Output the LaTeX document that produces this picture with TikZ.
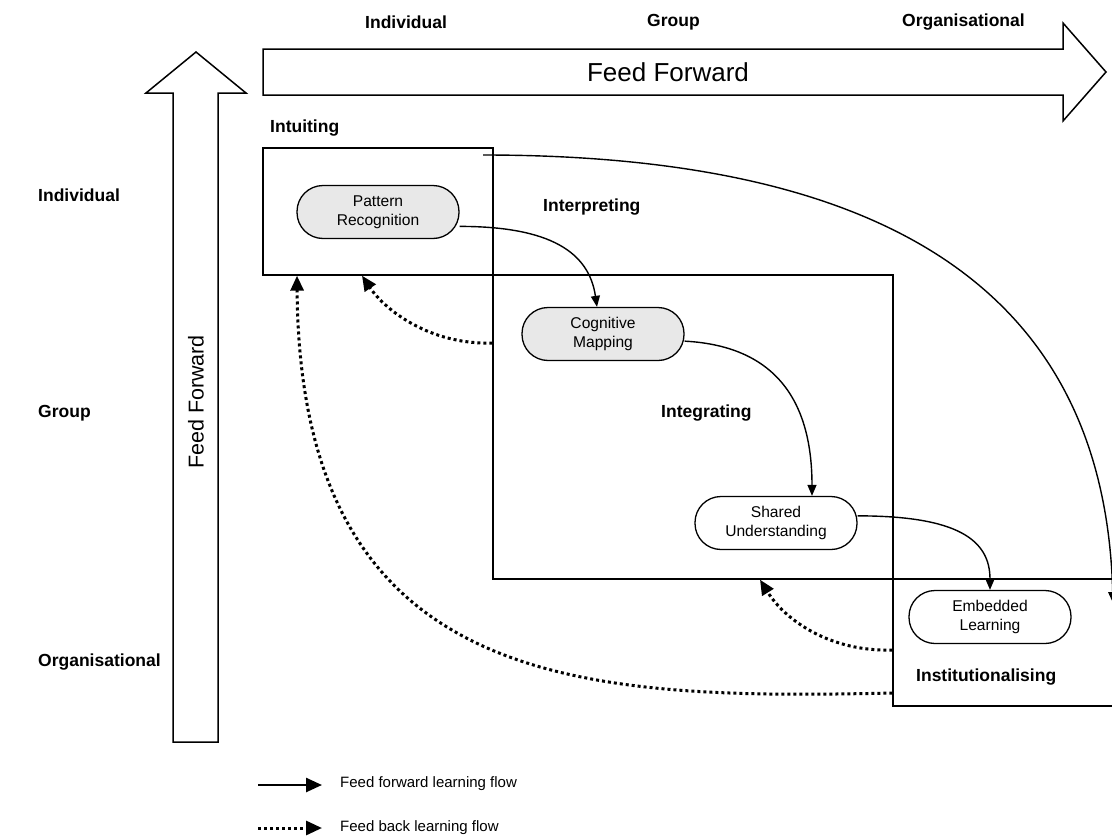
\documentclass[tikz,border=0pt]{standalone}
\usepackage{fontspec}
\setmainfont{Liberation Sans}
\usetikzlibrary{arrows.meta,positioning}
\definecolor{procgray}{HTML}{E8E8E8}

\begin{document}
\begin{tikzpicture}[x=1pt,y=-1pt,
    stage/.style={draw, line width=1.4pt, inner sep=0pt},
    proc/.style={draw, line width=1.3pt, rounded corners=26pt, minimum width=162pt,
        minimum height=53pt, align=center, inner sep=0pt, font=\fontsize{15.6}{19}\selectfont},
    lbl/.style={anchor=west, inner sep=0pt, font=\fontsize{17.5}{20}\selectfont\bfseries},
    ff/.style={line width=1.4pt, -{Triangle[length=11pt,width=9pt]}},
    fb/.style={line width=3pt, dash pattern=on 3pt off 3pt, -{Triangle[length=15pt,width=13pt]}},
    bigarrow/.style={draw, line width=1.5pt, line join=miter}]
    \clip (0,0) rectangle (1112,838);

    % Feed forward arrows along the axes
    \draw[bigarrow] (263,49) -- (1063,49) -- (1063,23) -- (1106,72) -- (1063,121) -- (1063,95) -- (263,95) -- cycle;
    \node[font=\fontsize{26}{30}\selectfont] (fftop) at (668,72) {Feed Forward};
    \draw[bigarrow] (173,742) -- (173,93) -- (146,93) -- (196,52) -- (246,93) -- (218,93) -- (218,742) -- cycle;
    \node[font=\fontsize{21.5}{25}\selectfont, rotate=90] (ffleft) at (196,402) {Feed Forward};

    % Level labels
    \node[lbl] (topind) at (365,22) {Individual};
    \node[lbl] (topgrp) at (647,22) {Group};
    \node[lbl] (toporg) at (902,22) {Organisational};
    \node[lbl] (leftind) at (38,195) {Individual};
    \node[lbl] (leftgrp) at (38,413) {Group};
    \node[lbl] (leftorg) at (38,662) {Organisational};

    % Stage boxes
    \node[stage, minimum width=230pt, minimum height=127pt] (intuit) at (378,211.5) {};
    \node[stage, minimum width=400pt, minimum height=304pt] (interp) at (693,427) {};
    \node[stage, minimum width=237pt, minimum height=127pt] (instit) at (1011.5,642.5) {};
    \node[lbl] (intuitlbl) at (270,128) {Intuiting};
    \node[lbl] (interplbl) at (543,207) {Interpreting};
    \node[lbl] (integlbl) at (661,413) {Integrating};
    \node[lbl] (institlbl) at (916,677) {Institutionalising};

    % Processes
    \node[proc, fill=procgray] (pat) at (378,212) {Pattern\\Recognition};
    \node[proc, fill=procgray] (cog) at (603,334) {Cognitive\\Mapping};
    \node[proc, fill=white] (shared) at (776,523) {Shared\\Understanding};
    \node[proc, fill=white] (embed) at (990,617) {Embedded\\Learning};

    % Feed forward flow
    \draw[ff] (pat.-10) .. controls +(90,0) and +(-8,-55) .. ([xshift=-6pt]cog.north);
    \draw[ff] (cog.-5) .. controls +(95,5) and +(0,-90) .. ([xshift=36pt]shared.north);
    \draw[ff] (shared.5) .. controls +(100,0) and +(0,-50) .. (embed.north);
    \coordinate (arcstart) at (483,155);
    \coordinate (arcend) at (1113,603);
    \draw[ff] (arcstart) .. controls (900,155) and (1105,300) .. (arcend);

    % Feed back flow
    \draw[fb] (interp.west |- 0,343) .. controls (430,345) and (385,310) .. (intuit.south -| 362,0);
    \draw[fb] (instit.west |- 0,650) .. controls (830,652) and (785,620) .. (interp.south -| 760,0);
    \draw[fb] (instit.west |- 0,693) .. controls (580,700) and (300,690) .. (intuit.south -| 297,0);

    % Legend
    \coordinate (ffa) at (258,785);
    \coordinate (ffb) at (322,785);
    \coordinate (fba) at (258,828);
    \coordinate (fbb) at (322,828);
    \draw[line width=2.5pt, -{Triangle[length=16pt,width=14pt]}] (ffa) -- (ffb);
    \draw[line width=3pt, dash pattern=on 3pt off 3pt, -{Triangle[length=16pt,width=14pt]}] (fba) -- (fbb);
    \node[anchor=west, inner sep=0pt, font=\fontsize{15}{18}\selectfont] (fflbl) at (340,784) {Feed forward learning flow};
    \node[anchor=west, inner sep=0pt, font=\fontsize{15}{18}\selectfont] (fblbl) at (340,828) {Feed back learning flow};
\end{tikzpicture}
\end{document}
